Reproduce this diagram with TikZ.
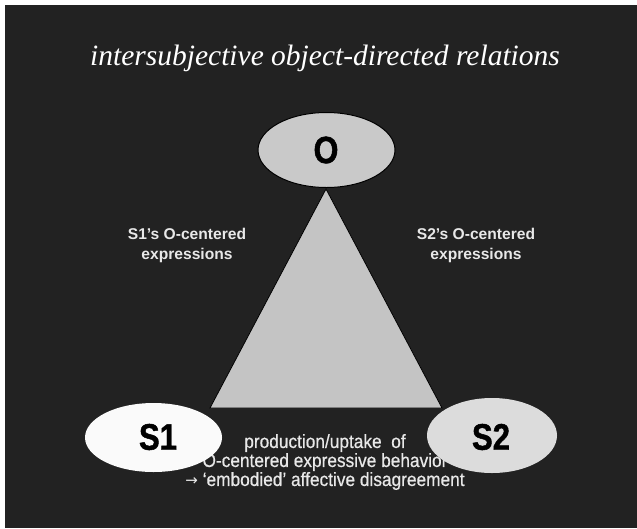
\documentclass[tikz,border=0pt]{standalone}
\usepackage{fontspec}
\setmainfont{Liberation Sans}
\newfontfamily\titlefont{Liberation Serif Italic}
\newfontfamily\narrowbold[FakeStretch=0.84]{Liberation Sans Bold}
\newfontfamily\narrowheavy[FakeStretch=0.84,FakeBold=1.2]{Liberation Sans Bold}
\newfontfamily\narrowfont[FakeStretch=0.9,FakeBold=0.6]{Liberation Sans}
\newfontfamily\arrowfont{DejaVu Sans}
\usetikzlibrary{shapes.geometric}
\definecolor{bgdark}{HTML}{222222}
\definecolor{trigray}{HTML}{C4C4C4}
\definecolor{ogray}{HTML}{C9C9C9}
\definecolor{sonewhite}{HTML}{FAFAFA}
\definecolor{stwogray}{HTML}{DCDCDC}
\definecolor{labelwhite}{HTML}{E8E8E8}
\begin{document}
\begin{tikzpicture}[x=1pt,y=-1pt,
  bigoval/.style={ellipse, inner sep=0pt},
  biglabel/.style={font=\narrowheavy\fontsize{37}{40}\selectfont, text=black},
  sidelabel/.style={align=center, text=labelwhite, font=\bfseries\fontsize{15.6}{20}\selectfont},
  bottomlabel/.style={align=center, text=labelwhite, font=\narrowfont\fontsize{19.2}{19}\selectfont}]
\useasboundingbox (0,0) rectangle (637,528);
\fill[white] (0,0) rectangle (637,528);
\fill[bgdark] (5,5) rectangle (637,528);

\node[anchor=base, text=white, font=\titlefont\fontsize{29.5}{32}\selectfont] (title) at (325,65) {intersubjective object-directed relations};

\coordinate (apex) at (326,189);
\coordinate (bl) at (210,408);
\coordinate (br) at (442,408);
\draw[fill=trigray, draw=black, line width=0.8pt] (apex) -- (bl) -- (br) -- cycle;

\node[sidelabel] (l1) at (187,245) {S1's O-centered\\expressions};
\node[sidelabel] (l2) at (476,245) {S2's O-centered\\expressions};

\node[bottomlabel] (bottom) at (325,462) {production/uptake\ \ of\\O-centered expressive behavior\\{\arrowfont\fontsize{15}{19}\selectfont →} ‘embodied’ affective disagreement};

\node[bigoval, fill=sonewhite, minimum width=137pt, minimum height=69pt] (S1) at (153.5,437.5) {};
\node[biglabel] (s1text) at (158,437) {S1};
\node[bigoval, fill=stwogray, minimum width=130pt, minimum height=75pt] (S2) at (492,435.5) {};
\node[biglabel] (s2text) at (491,437) {S2};

\node[bigoval, fill=ogray, draw=black, line width=1pt, minimum width=137pt, minimum height=75pt] (O) at (326.5,150) {};
\node[biglabel, font=\narrowheavy\fontsize{38}{40}\selectfont] (otext) at (326,150) {O};
\end{tikzpicture}
\end{document}
